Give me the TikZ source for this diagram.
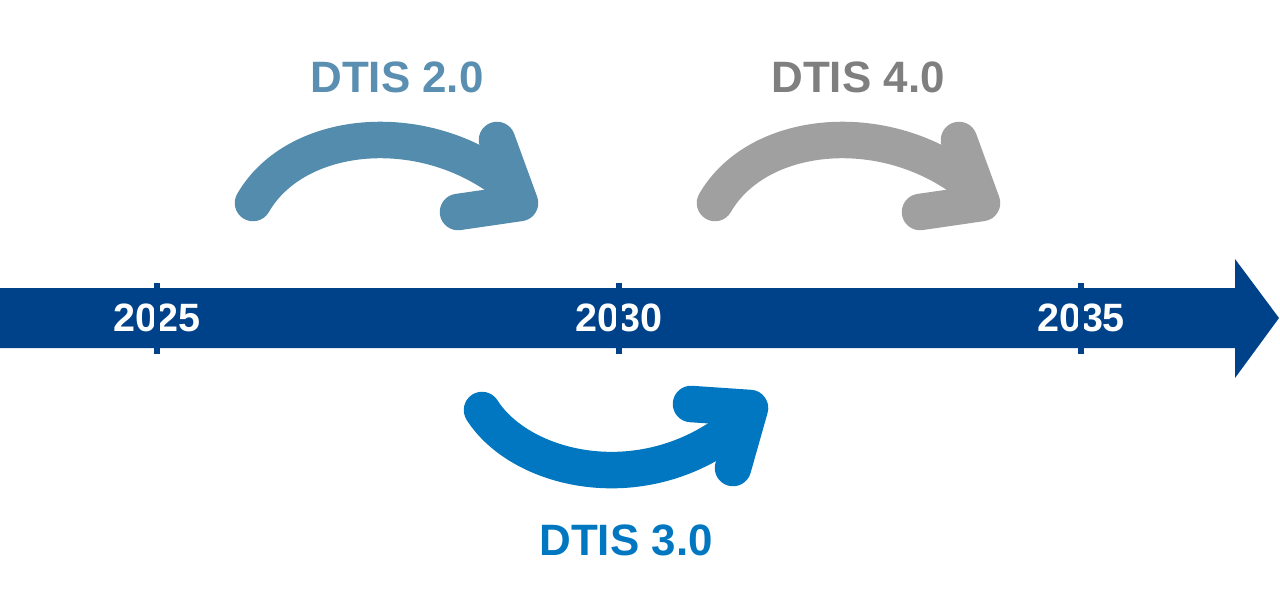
\documentclass[tikz,border=0pt]{standalone}
\usepackage{fontspec}
\setmainfont{Liberation Sans}
\usetikzlibrary{calc}
\definecolor{bandblue}{HTML}{00428A}
\definecolor{steel}{HTML}{538CAD}
\definecolor{steeltext}{HTML}{5A8FB1}
\definecolor{brightblue}{HTML}{0077C0}
\definecolor{softgray}{HTML}{A0A0A0}
\definecolor{darkgray}{HTML}{7F7F7F}

\begin{document}
\begin{tikzpicture}[x=0.02cm, y=-0.02cm,
  year/.style={text=white, inner sep=0pt, font=\bfseries\fontsize{22.5}{27}\selectfont},
  release/.style={inner sep=0pt, font=\bfseries\fontsize{25}{30}\selectfont},
  bent/.style={line width=0.73cm, line cap=round, line join=round},
  tick/.style={fill=bandblue},
]
\useasboundingbox (0,0) rectangle (1280,615);

% === Timeline band ===
\fill[bandblue] (0,288) -- (1235,288) -- (1235,259) -- (1279,318)
  -- (1235,378) -- (1235,348) -- (0,348) -- cycle;

% === Years with ticks ===
\node[year] (y25) at (157,318) {2025};
\node[year] (y30) at (619,318) {2030};
\node[year] (y35) at (1081,318) {2035};

\fill[tick] ($(y25)+(-3,-35)$) rectangle ($(y25)+(3,36)$);
\fill[tick] ($(y30)+(-3,-35)$) rectangle ($(y30)+(3,36)$);
\fill[tick] ($(y35)+(-3,-35)$) rectangle ($(y35)+(3,36)$);

% === Releases ===
\node[release, text=steeltext] (r2) at (397,77) {DTIS 2.0};
\node[release, text=brightblue] (r3) at (626,540) {DTIS 3.0};
\node[release, text=darkgray] (r4) at (858,77) {DTIS 4.0};

% === Bent arrows ===
\coordinate (a2s) at (253,203);
\coordinate (a2e) at (520,203);
\draw[bent, steel] (a2s) .. controls (295,130) and (420,117) .. (505,182);
\draw[bent, steel] (497,140) -- (a2e) -- (458,212);

\coordinate (a3s) at (482,410);
\coordinate (a3e) at (750,408);
\draw[bent, brightblue] (a3s) .. controls (520,470) and (640,500) .. (733,428);
\draw[bent, brightblue] (691,404) -- (a3e) -- (733,468);

\coordinate (a4s) at (715,203);
\coordinate (a4e) at (982,203);
\draw[bent, softgray] (a4s) .. controls (757,130) and (882,117) .. (967,182);
\draw[bent, softgray] (959,140) -- (a4e) -- (920,212);

\end{tikzpicture}
\end{document}
